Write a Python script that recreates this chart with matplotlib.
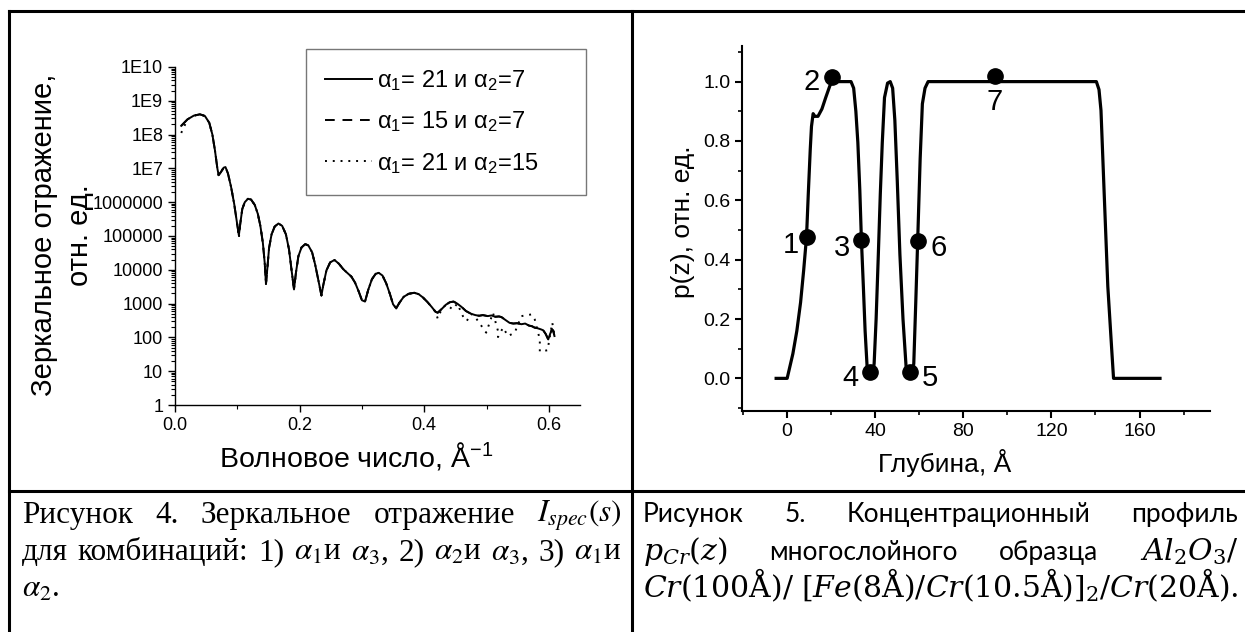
import numpy as np
import matplotlib
matplotlib.use("Agg")
import matplotlib.pyplot as plt
from matplotlib.lines import Line2D
from matplotlib.ticker import LogLocator, NullFormatter, MultipleLocator, FormatStrFormatter

plt.rcParams['font.family'] = ['Liberation Sans', 'DejaVu Sans']
plt.rcParams['mathtext.fontset'] = 'custom'
plt.rcParams['mathtext.rm'] = 'Liberation Sans'
plt.rcParams['mathtext.it'] = 'Liberation Sans:italic'
plt.rcParams['mathtext.bf'] = 'Liberation Sans:bold'

# ---------------- data: left panel (specular reflectivity) ----------------
q_solid = [0.010, 0.020, 0.030, 0.040, 0.048, 0.055, 0.060, 0.064, 0.068, 0.070,
           0.074, 0.078, 0.081, 0.085, 0.090, 0.095, 0.099, 0.1025, 0.105, 0.108,
           0.112, 0.117, 0.122, 0.128, 0.133, 0.137, 0.141, 0.144, 0.146, 0.148,
           0.151, 0.155, 0.160, 0.166, 0.172, 0.178, 0.183, 0.187, 0.191, 0.194,
           0.198, 0.203, 0.209, 0.214, 0.220, 0.225, 0.230, 0.235, 0.238, 0.243,
           0.249, 0.256, 0.263, 0.270, 0.277, 0.283, 0.289, 0.295, 0.300, 0.305,
           0.310, 0.316, 0.322, 0.327, 0.333, 0.339, 0.345, 0.350, 0.355, 0.360,
           0.367, 0.375, 0.384, 0.391, 0.398, 0.405, 0.412, 0.418, 0.4216, 0.428,
           0.435, 0.441, 0.447, 0.453, 0.460, 0.467, 0.475, 0.482, 0.488, 0.494,
           0.502, 0.508, 0.514, 0.520, 0.524, 0.530, 0.537, 0.543, 0.549, 0.556,
           0.562, 0.568, 0.573, 0.577, 0.582, 0.587, 0.591, 0.595, 0.599, 0.602,
           0.605, 0.607, 0.609]
log_solid = [8.26, 8.45, 8.56, 8.60, 8.55, 8.35, 8.00, 7.55, 7.00, 6.80,
             6.90, 7.02, 7.04, 6.85, 6.45, 5.95, 5.45, 5.02, 5.40, 5.80,
             6.00, 6.10, 6.08, 5.92, 5.65, 5.30, 4.80, 4.20, 3.58, 4.00,
             4.65, 5.05, 5.28, 5.37, 5.30, 5.05, 4.60, 4.00, 3.42, 3.90,
             4.40, 4.66, 4.76, 4.72, 4.52, 4.15, 3.70, 3.24, 3.55, 3.98,
             4.22, 4.29, 4.18, 4.02, 3.90, 3.80, 3.62, 3.35, 3.10, 3.06,
             3.40, 3.72, 3.88, 3.91, 3.83, 3.60, 3.28, 2.98, 2.86, 3.02,
             3.20, 3.29, 3.32, 3.28, 3.18, 3.05, 2.90, 2.76, 2.73, 2.84,
             2.97, 3.04, 3.06, 3.00, 2.90, 2.78, 2.70, 2.66, 2.64, 2.66,
             2.63, 2.65, 2.61, 2.62, 2.60, 2.52, 2.43, 2.41, 2.42, 2.39,
             2.41, 2.35, 2.33, 2.29, 2.27, 2.24, 2.21, 2.10, 1.94, 2.10,
             2.24, 2.20, 2.04]

q_dashed = q_solid
log_dashed = log_solid

q_dotted = [0.010, 0.020, 0.030, 0.040, 0.048, 0.055, 0.060, 0.064, 0.068, 0.070,
            0.074, 0.078, 0.081, 0.085, 0.090, 0.095, 0.099, 0.1025, 0.105, 0.108,
            0.112, 0.117, 0.122, 0.128, 0.133, 0.137, 0.141, 0.144, 0.146, 0.148,
            0.151, 0.155, 0.160, 0.166, 0.172, 0.178, 0.183, 0.187, 0.191, 0.194,
            0.198, 0.203, 0.209, 0.214, 0.220, 0.225, 0.230, 0.235, 0.238, 0.243,
            0.249, 0.256, 0.263, 0.270, 0.277, 0.283, 0.289, 0.295, 0.300, 0.305,
            0.310, 0.316, 0.322, 0.327, 0.333, 0.339, 0.345, 0.350, 0.355, 0.360,
            0.367, 0.375, 0.384, 0.391, 0.398, 0.405, 0.412, 0.418, 0.4216, 0.428,
            0.435, 0.4458, 0.453, 0.4645, 0.4684, 0.475, 0.4834, 0.4995, 0.5103, 0.5184,
            0.5184, 0.5265, 0.5345, 0.5452, 0.556, 0.5721, 0.5774, 0.5855, 0.5855, 0.5855,
            0.5979, 0.6055, 0.609]
log_dotted = [8.05, 8.45, 8.56, 8.60, 8.55, 8.35, 8.00, 7.55, 7.00, 6.80,
              6.90, 7.02, 7.04, 6.85, 6.45, 5.95, 5.45, 4.95, 5.40, 5.80,
              6.00, 6.10, 6.08, 5.92, 5.65, 5.30, 4.80, 4.20, 3.58, 4.00,
              4.65, 5.05, 5.28, 5.37, 5.30, 5.05, 4.60, 4.00, 3.42, 3.90,
              4.40, 4.66, 4.76, 4.72, 4.52, 4.15, 3.70, 3.24, 3.55, 3.98,
              4.22, 4.29, 4.18, 4.02, 3.90, 3.80, 3.62, 3.35, 3.10, 3.06,
              3.40, 3.72, 3.88, 3.91, 3.83, 3.60, 3.28, 2.98, 2.86, 3.02,
              3.20, 3.29, 3.32, 3.28, 3.18, 3.05, 2.90, 2.76, 2.56, 2.84,
              2.97, 2.83, 3.00, 2.53, 2.49, 2.70, 2.56, 2.14, 2.73, 2.19,
              2.01, 2.29, 2.04, 2.14, 2.63, 2.68, 2.53, 1.94, 1.75, 1.58,
              1.62, 2.44, 2.04]

ytick_vals = [1, 10, 100, 1000, 10000, 100000, 1000000, 1e7, 1e8, 1e9, 1e10]
ytick_labels = ['1', '10', '100', '1000', '10000', '100000', '1000000',
                '1E7', '1E8', '1E9', '1E10']
legend_labels = ['α$_1$= 21 и α$_2$=7', 'α$_1$= 15 и α$_2$=7', 'α$_1$= 21 и α$_2$=15']

# ---------------- data: right panel (concentration profile) ----------------
z_prof = [-5.0, 0.0, 2.6, 4.4, 6.1, 7.5, 8.8, 9.6, 10.5, 11.05, 11.8, 12.6, 14.0,
          15.8, 17.5, 19.3, 20.2, 29.0, 30.2, 31.2, 32.1, 33.0, 33.7, 34.6, 35.4,
          36.3, 37.2, 38.6, 39.5, 40.4, 41.4, 42.3, 43.2, 44.2, 45.6, 46.8, 47.9,
          48.9, 50.0, 51.2, 52.6, 54.0, 55.1, 56.5, 57.5, 58.4, 59.3, 60.4, 61.4,
          62.6, 64.0, 140.4, 141.6, 142.5, 143.9, 145.6, 147.4, 148.2, 169.3]
p_prof = [0.0, 0.0, 0.083, 0.16, 0.256, 0.364, 0.477, 0.622, 0.773, 0.849, 0.892,
          0.883, 0.883, 0.908, 0.946, 0.984, 1.0, 1.0, 0.978, 0.90, 0.795, 0.633,
          0.471, 0.31, 0.16, 0.04, 0.002, 0.002, 0.05, 0.2, 0.417, 0.622, 0.795,
          0.946, 0.995, 1.0, 0.978, 0.87, 0.666, 0.417, 0.2, 0.04, 0.002, 0.002,
          0.05, 0.256, 0.471, 0.741, 0.925, 0.978, 1.0, 1.0, 0.973, 0.903, 0.633,
          0.31, 0.094, 0.0, 0.0]

pt_z = [8.8, 20.2, 33.5, 37.7, 56.0, 59.3, 94.2]
pt_p = [0.475, 1.014, 0.466, 0.022, 0.022, 0.464, 1.018]
pt_labels = ['1', '2', '3', '4', '5', '6', '7']
pt_label_z = [5.3, 15.0, 28.8, 32.5, 61.0, 65.0, 94.2]
pt_label_p = [0.45, 1.0, 0.44, 0.0, 0.0, 0.44, 0.93]
pt_label_ha = ['right', 'right', 'right', 'right', 'left', 'left', 'center']

W, H = 1245, 632
fig = plt.figure(figsize=(W / 100, H / 100), dpi=100)

def fx(px):
    return px / W

def fy(py):
    return 1 - py / H

# ---------------- left axes ----------------
axL = fig.add_axes([fx(175), fy(405), fx(580) - fx(175), fy(67) - fy(405)])
axL.plot(q_solid, 10 ** np.array(log_solid), color='black', lw=1.4, ls='-')
axL.plot(q_dashed, 10 ** np.array(log_dashed), color='black', lw=1.4, ls=(0, (5, 4)))
axL.plot(q_dotted, 10 ** np.array(log_dotted), color='black', lw=1.4, ls=(0, (1, 3)))
axL.set_yscale('log')
axL.set_xlim(0, 0.65)
axL.set_ylim(1, 1e10)
axL.set_yticks(ytick_vals)
axL.set_yticklabels(ytick_labels)
axL.yaxis.set_minor_locator(LogLocator(base=10, subs=np.arange(2, 10), numticks=100))
axL.yaxis.set_minor_formatter(NullFormatter())
axL.xaxis.set_major_locator(MultipleLocator(0.2))
axL.xaxis.set_minor_locator(MultipleLocator(0.1))
axL.xaxis.set_major_formatter(FormatStrFormatter('%.1f'))
for s in ['top', 'right']:
    axL.spines[s].set_visible(False)
for s in ['left', 'bottom']:
    axL.spines[s].set_linewidth(1.0)
axL.tick_params(which='major', direction='out', length=5, width=1.0, labelsize=13)
axL.tick_params(which='minor', direction='out', length=3, width=0.8)
axL.set_xlabel('Волновое число, Å$^{-1}$', fontsize=20.5, va='center')
axL.xaxis.set_label_coords(0.447, -0.151)
axL.set_ylabel('Зеркальное отражение,\nотн. ед.', fontsize=21, va='center',
               linespacing=1.4)
axL.yaxis.set_label_coords(-0.279, 0.503)

leg = axL.legend(legend_labels, loc='upper left',
                 bbox_to_anchor=(fx(306), fy(49) - 0.01, fx(586) - fx(306), 0.01),
                 bbox_transform=fig.transFigure, mode='expand',
                 fontsize=17, frameon=True, fancybox=False, edgecolor='#555555',
                 borderpad=0.8, labelspacing=0.7, handlelength=2.0,
                 handletextpad=0.2, borderaxespad=0)
leg.get_frame().set_linewidth(1.0)

# ---------------- right axes ----------------
axR = fig.add_axes([fx(742), fy(411), fx(1210) - fx(742), fy(46) - fy(411)])
axR.plot(z_prof, p_prof, color='black', lw=2.3, solid_joinstyle='round')
axR.plot(pt_z, pt_p, 'o', color='black', ms=11)
for zl, pl, lab, ha in zip(pt_label_z, pt_label_p, pt_labels, pt_label_ha):
    axR.text(zl, pl, lab, fontsize=21, ha=ha, va='center')
axR.set_xlim(-20.5, 192)
axR.set_ylim(-0.11, 1.12)
axR.xaxis.set_major_locator(MultipleLocator(40))
axR.xaxis.set_minor_locator(MultipleLocator(20))
axR.yaxis.set_major_locator(MultipleLocator(0.2))
axR.yaxis.set_minor_locator(MultipleLocator(0.1))
axR.yaxis.set_major_formatter(FormatStrFormatter('%.1f'))
for s in ['top', 'right']:
    axR.spines[s].set_visible(False)
for s in ['left', 'bottom']:
    axR.spines[s].set_linewidth(1.5)
axR.tick_params(which='major', direction='out', length=5, width=1.5, labelsize=14)
axR.tick_params(which='minor', direction='out', length=3, width=1.2)
axR.set_xlabel('Глубина, Å', fontsize=19, va='center')
axR.xaxis.set_label_coords(0.434, -0.142)
axR.set_ylabel('p(z), отн. ед.', fontsize=19, va='center')
axR.yaxis.set_label_coords(-0.127, 0.518)

# ---------------- table lines ----------------
lw_tab = 2.2
fig.add_artist(Line2D([fx(9), 1.0], [fy(11), fy(11)], transform=fig.transFigure,
                      color='black', lw=lw_tab))
fig.add_artist(Line2D([fx(9), fx(9)], [fy(11), 0.0], transform=fig.transFigure,
                      color='black', lw=lw_tab))
fig.add_artist(Line2D([fx(632), fx(632)], [fy(11), 0.0], transform=fig.transFigure,
                      color='black', lw=lw_tab))
fig.add_artist(Line2D([fx(9), 1.0], [fy(491), fy(491)], transform=fig.transFigure,
                      color='black', lw=lw_tab))

# ---------------- captions ----------------
renderer = fig.canvas.get_renderer()

def make_texts(pieces, y, family, size, mathfam):
    out = []
    for p in pieces:
        sz = size
        if isinstance(p, tuple):
            p, sz = p
        t = fig.text(0, fy(y), p, family=family, fontsize=sz, va='baseline',
                     ha='left', math_fontfamily=mathfam)
        out.append(t)
    return out

def place_line(pieces, x0, x1, y, family, size, mathfam='stix', justify=True):
    texts = make_texts(pieces, y, family, size, mathfam)
    widths = [t.get_window_extent(renderer).width for t in texts]
    if justify and len(texts) > 1:
        gap = (x1 - x0 - sum(widths)) / (len(texts) - 1)
    else:
        gap = size * 100 / 72 * 0.25
    x = x0
    for t, w in zip(texts, widths):
        t.set_x(fx(x))
        x += w + gap

serif = ['Liberation Serif', 'DejaVu Serif']
sans = ['Lato', 'DejaVu Sans']
cap_l1 = ['Рисунок', '4.', 'Зеркальное', 'отражение', r'$I_{spec}(s)$']
cap_l2 = ['для', 'комбинаций:', '1)', r'$\alpha_1$и', r'$\alpha_3$,', '2)',
          r'$\alpha_2$и', r'$\alpha_3$,', '3)', r'$\alpha_1$и']
cap_l3 = [r'$\alpha_2$.']
cap_r1 = ['Рисунок', '5.', 'Концентрационный', 'профиль']
cap_r2_math = [r'$p_{Cr}(z)$', r'$Al_2O_3/$']
cap_r2_words = ['многослойного', 'образца']
cap_r3 = [r'$Cr(100\mathrm{\AA})/$',
          r'$[Fe(8\mathrm{\AA})/Cr(10.5\mathrm{\AA})]_2/Cr(20\mathrm{\AA}).$']

place_line(cap_l1, 22, 622, 523, serif, 22.5)
place_line(cap_l2, 22, 622, 560, serif, 22.5)
place_line(cap_l3, 22, 622, 597, serif, 22.5, justify=False)

# size of the math font in the right caption: chosen so that line 3
# (which has a single ordinary space) just fills the cell width
probe = make_texts(cap_r3, 597, sans, 20, 'dejavuserif')
natural = sum(t.get_window_extent(renderer).width for t in probe)
for t in probe:
    t.remove()
math_size = 20 * (1238 - 643 - 7) / natural

place_line(cap_r1, 643, 1238, 522, sans, 19)
place_line([(cap_r2_math[0], math_size), cap_r2_words[0], cap_r2_words[1],
            (cap_r2_math[1], math_size)], 643, 1238, 560, sans, 19,
           mathfam='dejavuserif')
place_line([(p, math_size) for p in cap_r3], 643, 1238, 597, sans, 19,
           mathfam='dejavuserif')

fig.savefig('out.png', dpi=100)
